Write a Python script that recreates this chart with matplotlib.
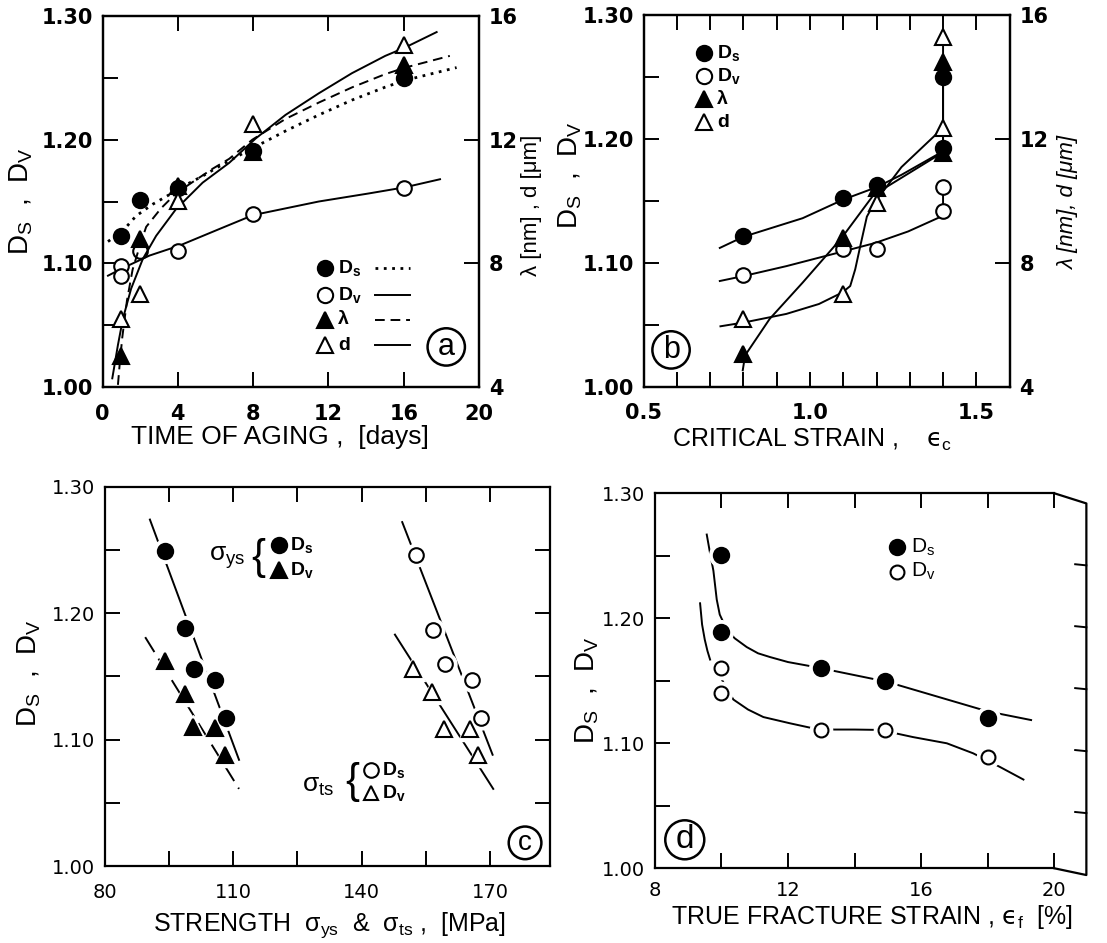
import numpy as np
import matplotlib
matplotlib.use("Agg")
import matplotlib.pyplot as plt

plt.rcParams["font.family"] = ["Liberation Sans", "DejaVu Sans"]
plt.rcParams["mathtext.fontset"] = "custom"
plt.rcParams["mathtext.rm"] = "Liberation Sans"
plt.rcParams["mathtext.it"] = "Liberation Sans:italic"
plt.rcParams["mathtext.bf"] = "Liberation Sans:bold"

# ========= (a) time of aging =========
a_days = [1, 2, 4, 8, 16]
a_Ds = [1.122, 1.151, 1.161, 1.191, 1.250]
a_Dv_days = [1, 1, 2, 4, 8, 16]
a_Dv = [1.098, 1.090, 1.110, 1.110, 1.140, 1.161]
a_lam = [5.0, 8.8, 10.5, 11.6, 14.4]      # nm
a_d = [6.2, 7.0, 10.0, 12.5, 15.05]       # um

# curves
a_Ds_cx = [0.29, 1.085, 1.79, 2.67, 3.56, 4.0, 5.32, 6.38, 7.96, 9.72, 11.49, 13.25, 15.02, 16.07, 18.81]
a_Ds_cy = [1.1176, 1.1264, 1.1384, 1.1478, 1.1556, 1.16, 1.1706, 1.18, 1.193, 1.207, 1.22, 1.232, 1.2425, 1.248, 1.2583]
a_Dv_cx = [0.29, 1.085, 2.5, 4.08, 6.2, 8.0, 11.49, 14.14, 16.07, 17.93]
a_Dv_cy = [1.09, 1.0962, 1.1063, 1.1143, 1.1277, 1.139, 1.150, 1.1565, 1.1615, 1.168]
a_lam_cx = [0.82, 0.91, 1.05, 1.3, 1.6, 2.0, 2.32, 3.11, 3.9, 4.79, 5.85, 6.73, 7.96, 9.72, 11.49, 13.25, 15.02, 16.07, 18.45]
a_lam_cy = [4.07, 4.72, 5.6, 6.8, 7.8, 8.6, 9.18, 9.78, 10.26, 10.63, 11.06, 11.38, 12.0, 12.67, 13.2, 13.69, 14.12, 14.33, 14.71]
a_d_cx = [0.52, 0.82, 1.085, 1.52, 2.14, 2.85, 3.9, 5.32, 6.73, 8.14, 9.72, 11.49, 13.25, 15.02, 16.07, 17.75]
a_d_cy = [4.28, 5.36, 6.21, 7.18, 8.14, 8.89, 9.75, 10.61, 11.25, 12.04, 12.8, 13.5, 14.15, 14.71, 14.98, 15.48]

# ========= (b) critical strain =========
b_strain = [0.8, 1.1, 1.2, 1.4, 1.4]
b_Ds = [1.122, 1.152, 1.163, 1.193, 1.250]
b_Dv = [1.090, 1.111, 1.111, 1.142, 1.161]
b_lam = [5.07, 8.8, 10.4, 11.56, 14.48]
b_d = [6.19, 6.99, 9.94, 12.36, 15.3]

b_Ds_cx = [0.729, 0.8, 0.978, 1.1, 1.2, 1.275, 1.4, 1.4]
b_Ds_cy = [1.112, 1.121, 1.136, 1.151, 1.161, 1.171, 1.19, 1.25]
b_Dv_cx = [0.729, 0.8, 0.929, 1.097, 1.196, 1.295, 1.4, 1.4]
b_Dv_cy = [1.0853, 1.0893, 1.0973, 1.109, 1.116, 1.1253, 1.138, 1.161]
b_lam_cx = [0.798, 0.805, 0.879, 0.978, 1.095, 1.191, 1.4, 1.4]
b_lam_cy = [4.53, 5.01, 6.19, 7.36, 8.8, 10.19, 11.57, 14.48]
b_d_cx = [0.731, 0.805, 0.929, 1.027, 1.097, 1.121, 1.136, 1.151, 1.171, 1.194, 1.275, 1.4, 1.4]
b_d_cy = [5.95, 6.08, 6.35, 6.67, 7.04, 7.25, 7.79, 8.53, 9.49, 9.94, 11.09, 12.36, 15.3]

# ========= (c) strength =========
c_ys_Ds_x = [94.2, 98.9, 101.0, 105.7, 108.4]
c_ys_Ds = [1.249, 1.188, 1.156, 1.147, 1.117]
c_ys_Dv_x = [94.1, 98.7, 100.7, 105.7, 108.1]
c_ys_Dv = [1.162, 1.136, 1.110, 1.109, 1.088]
c_ts_Ds_x = [152.8, 156.7, 159.5, 165.7, 168.0]
c_ts_Ds = [1.246, 1.187, 1.160, 1.147, 1.117]
c_ts_Dv_x = [152.0, 156.4, 159.3, 165.3, 167.2]
c_ts_Dv = [1.156, 1.138, 1.108, 1.108, 1.088]

c_ys_Ds_lx, c_ys_Ds_ly = [90.6, 111.4], [1.274, 1.084]
c_ys_Dv_lx, c_ys_Dv_ly = [89.5, 111.4], [1.181, 1.061]
c_ts_Ds_lx, c_ts_Ds_ly = [149.5, 170.6], [1.272, 1.088]
c_ts_Dv_lx, c_ts_Dv_ly = [147.8, 170.75], [1.183, 1.061]

# ========= (d) true fracture strain =========
d_strain = [10.0, 10.0, 13.0, 14.9, 18.0]
d_Ds = [1.251, 1.189, 1.160, 1.150, 1.120]
d_Dv = [1.160, 1.140, 1.111, 1.111, 1.089]

d_Ds_cx = [9.56, 9.66, 9.76, 9.86, 9.95, 10.16, 10.4, 10.76, 11.1, 11.46, 12.0, 12.76, 13.0, 14.96, 18.0, 19.3]
d_Ds_cy = [1.267, 1.252, 1.238, 1.215, 1.203, 1.191, 1.184, 1.177, 1.172, 1.169, 1.165, 1.1613, 1.160, 1.1493, 1.1255, 1.1186]
d_Dv_c1x = [9.36, 9.42, 9.5, 9.58, 9.66]
d_Dv_c1y = [1.212, 1.195, 1.183, 1.174, 1.167]
d_Dv_c2x = [10.01, 10.36, 10.8, 11.26, 12.06, 12.75, 13.0, 14.0, 14.76, 15.75, 16.77, 17.56, 18.37, 19.07]
d_Dv_c2y = [1.151, 1.135, 1.127, 1.121, 1.116, 1.112, 1.111, 1.111, 1.1107, 1.105, 1.10, 1.092, 1.081, 1.071]

# ========= 画图 =========
W, H = 1107, 943
fig = plt.figure(figsize=(W / 100, H / 100), dpi=100)


def add_ax(l, r, t, b):
    return fig.add_axes([l / W, 1 - b / H, (r - l) / W, (b - t) / H])


def style(ax, size, weight="normal", pad=6):
    ax.tick_params(which="both", direction="in", length=11, width=1.4,
                   labelsize=size, pad=pad)
    for s in ax.spines.values():
        s.set_linewidth(1.6)
    for lbl in ax.get_xticklabels() + ax.get_yticklabels():
        lbl.set_fontweight(weight)
        lbl.set_fontfamily("DejaVu Sans")


def pts(ax, x, y, marker, filled, ms=11, halo=False, **kw):
    if halo:
        ax.plot(x, y, ls="none", marker=marker, ms=ms + 6, mfc="white",
                mec="white", zorder=3, **kw)
    ax.plot(x, y, ls="none", marker=marker, ms=ms,
            mfc="black" if filled else "white", mec="black", mew=1.5,
            zorder=4, **kw)


def circled(ax, x, y, s, size=22):
    ax.text(x, y, s, transform=ax.transAxes, ha="center", va="center",
            fontsize=size, zorder=6,
            bbox=dict(boxstyle="circle,pad=0.12", fc="white", ec="black", lw=1.8))


DL = "D$_\\mathregular{S}$  ,  D$_\\mathregular{V}$"
ys_fmt = lambda v: f"{v:.2f}"
lw = 1.4

# ---------- (a) ----------
ax = add_ax(102.5, 479, 16, 387)
ax.set_xlim(0, 20)
ax.set_ylim(1.0, 1.3)
ax.set_xticks([0, 4, 8, 12, 16, 20])
ax.set_yticks([1.0, 1.1, 1.2, 1.3])
ax.set_yticklabels([ys_fmt(v) for v in [1.0, 1.1, 1.2, 1.3]])
ax.set_yticks([1.05, 1.15, 1.25], minor=True)
ax.tick_params(top=True)
style(ax, 15, "bold", pad=7)
ax.tick_params(axis="x", pad=12)
ax.plot(a_Ds_cx, a_Ds_cy, color="k", lw=2, ls=(0, (1, 2)))
ax.plot(a_Dv_cx, a_Dv_cy, color="k", lw=lw)
pts(ax, a_days, a_Ds, "o", True)
pts(ax, a_Dv_days, a_Dv, "o", False, ms=10.5)
ax2 = ax.twinx()
ax2.set_ylim(4, 16)
ax2.set_yticks([4, 8, 12, 16])
style(ax2, 15, "bold", pad=7)
ax2.plot(a_lam_cx, a_lam_cy, color="k", lw=lw, ls=(0, (5, 3)))
ax2.plot(a_d_cx, a_d_cy, color="k", lw=lw)
pts(ax2, a_days, a_lam, "^", True)
pts(ax2, a_days, a_d, "^", False)
ax.text(-0.215, 0.5, DL, transform=ax.transAxes, rotation=90,
        ha="center", va="center", fontsize=20)
ax.text(1.14, 0.49, "λ [nm] , d [μm]", transform=ax.transAxes, rotation=90,
        ha="center", va="center", fontsize=16)
ax.text(0.47, -0.135, "TIME OF AGING ,  [days]", transform=ax.transAxes,
        ha="center", va="center", fontsize=19)
# legend
leg_a = [("o", True, "D$_\\mathbf{s}$", (0, (1, 2)), 2),
         ("o", False, "D$_\\mathbf{v}$", "-", lw),
         ("^", True, "λ", (0, (5, 3)), lw),
         ("^", False, "d", "-", lw)]
for (mk, fl, lab, ls, lww), yy in zip(leg_a, [0.321, 0.248, 0.181, 0.113]):
    pts(ax, [0.592], [yy], mk, fl, transform=ax.transAxes, clip_on=False)
    ax.text(0.625, yy, lab, transform=ax.transAxes, ha="left", va="center",
            fontsize=14, fontweight="bold")
    ax.plot([0.725, 0.818], [yy, yy], transform=ax.transAxes, color="k",
            lw=lww, ls=ls)
circled(ax, 0.913, 0.108, "a")

# ---------- (b) ----------
ax = add_ax(643.6, 1009.6, 15, 386.7)
ax.set_xlim(0.5, 1.6)
ax.set_ylim(1.0, 1.3)
ax.set_xticks([0.5, 1.0, 1.5])
ax.set_xticklabels(["0.5", "1.0", "1.5"])
ax.set_xticks([0.6, 0.7, 0.8, 0.9, 1.1, 1.2, 1.3, 1.4], minor=True)
ax.set_yticks([1.0, 1.1, 1.2, 1.3])
ax.set_yticklabels([ys_fmt(v) for v in [1.0, 1.1, 1.2, 1.3]])
ax.set_yticks([1.05, 1.15, 1.25], minor=True)
ax.tick_params(top=True, which="both")
style(ax, 15, "bold", pad=7)
ax.tick_params(axis="x", pad=12)
ax.plot(b_Ds_cx, b_Ds_cy, color="k", lw=lw)
ax.plot(b_Dv_cx, b_Dv_cy, color="k", lw=lw)
pts(ax, b_strain, b_Ds, "o", True)
pts(ax, b_strain, b_Dv, "o", False, ms=10.5)
ax2 = ax.twinx()
ax2.set_ylim(4, 16)
ax2.set_yticks([4, 8, 12, 16])
style(ax2, 15, "bold", pad=7)
ax2.plot(b_lam_cx, b_lam_cy, color="k", lw=lw)
ax2.plot(b_d_cx, b_d_cy, color="k", lw=lw)
pts(ax2, b_strain, b_lam, "^", True)
pts(ax2, b_strain, b_d, "^", False)
ax.text(-0.2, 0.57, DL, transform=ax.transAxes, rotation=90,
        ha="center", va="center", fontsize=20)
ax.text(1.16, 0.494, "λ [nm], d [μm]", transform=ax.transAxes, rotation=90,
        ha="center", va="center", fontsize=16, style="italic")
ax.text(0.46, -0.143, "CRITICAL STRAIN ,    $\\mathrm{ϵ}_\\mathregular{c}$",
        transform=ax.transAxes, ha="center", va="center", fontsize=18,
        math_fontfamily="dejavusans")
leg_b = [("o", True, "D$_\\mathbf{s}$"), ("o", False, "D$_\\mathbf{v}$"),
         ("^", True, "λ"), ("^", False, "d")]
for (mk, fl, lab), yy in zip(leg_b, [0.898, 0.836, 0.774, 0.712]):
    pts(ax, [0.164], [yy], mk, fl, transform=ax.transAxes, clip_on=False)
    ax.text(0.2, yy, lab, transform=ax.transAxes, ha="left", va="center",
            fontsize=14, fontweight="bold")
circled(ax, 0.075, 0.099, "b")

# ---------- (c) ----------
ax = add_ax(104.5, 550, 486.7, 866)
ax.set_xlim(80, 184)
ax.set_ylim(1.0, 1.3)
ax.set_xticks([80, 110, 140, 170])
ax.set_xticks([95, 125, 155], minor=True)
ax.set_yticks([1.0, 1.1, 1.2, 1.3])
ax.set_yticklabels([ys_fmt(v) for v in [1.0, 1.1, 1.2, 1.3]])
ax.set_yticks([1.05, 1.15, 1.25], minor=True)
ax.tick_params(top=True, right=True, which="both")
style(ax, 14, pad=7)
ax.tick_params(axis="x", pad=12)
ax.plot(c_ys_Ds_lx, c_ys_Ds_ly, color="k", lw=lw)
ax.plot(c_ys_Dv_lx, c_ys_Dv_ly, color="k", lw=lw, ls=(0, (9, 4)))
ax.plot(c_ts_Ds_lx, c_ts_Ds_ly, color="k", lw=lw)
ax.plot(c_ts_Dv_lx, c_ts_Dv_ly, color="k", lw=lw)
pts(ax, c_ys_Ds_x, c_ys_Ds, "o", True, halo=True)
pts(ax, c_ys_Dv_x, c_ys_Dv, "^", True, halo=True)
pts(ax, c_ts_Ds_x, c_ts_Ds, "o", False, ms=10.5, halo=True)
pts(ax, c_ts_Dv_x, c_ts_Dv, "^", False, halo=True)
ax.text(-0.17, 0.509, DL, transform=ax.transAxes, rotation=90,
        ha="center", va="center", fontsize=20)
ax.text(0.504, -0.156,
        "STRENGTH  σ$_\\mathregular{ys}$  &  σ$_\\mathregular{ts}$ ,  [MPa]",
        transform=ax.transAxes, ha="center", va="center", fontsize=18)
# legend groups
ax.text(0.275, 0.812, "σ$_\\mathregular{ys}$", transform=ax.transAxes,
        ha="center", va="center", fontsize=19)
ax.text(0.345, 0.813, "{", transform=ax.transAxes, ha="center", va="center",
        fontsize=30, fontweight="light")
for (mk, lab), yy in zip([("o", "D$_\\mathregular{s}$"), ("^", "D$_\\mathregular{v}$")],
                         [0.846, 0.781]):
    pts(ax, [0.391], [yy], mk, True, transform=ax.transAxes, clip_on=False)
    ax.text(0.417, yy, lab, transform=ax.transAxes, ha="left", va="center",
            fontsize=14, fontweight="bold")
ax.text(0.48, 0.212, "σ$_\\mathregular{ts}$", transform=ax.transAxes,
        ha="center", va="center", fontsize=19)
ax.text(0.556, 0.222, "{", transform=ax.transAxes, ha="center", va="center",
        fontsize=30, fontweight="light")
for (mk, lab), yy in zip([("o", "D$_\\mathregular{s}$"), ("^", "D$_\\mathregular{v}$")],
                         [0.253, 0.192]):
    pts(ax, [0.598], [yy], mk, False, ms=10.5, transform=ax.transAxes, clip_on=False)
    ax.text(0.624, yy, lab, transform=ax.transAxes, ha="left", va="center",
            fontsize=14, fontweight="bold")
circled(ax, 0.944, 0.061, "c", size=20)

# ---------- (d) ----------
ax = add_ax(654.8, 1054.4, 493.3, 868.3)
ax.set_xlim(8, 20)
ax.set_ylim(1.0, 1.3)
ax.set_xticks([8, 12, 16, 20])
ax.set_xticks([10, 14, 18], minor=True)
ax.set_yticks([1.0, 1.1, 1.2, 1.3])
ax.set_yticklabels([ys_fmt(v) for v in [1.0, 1.1, 1.2, 1.3]])
ax.set_yticks([1.05, 1.15, 1.25], minor=True)
ax.tick_params(top=True, which="both")
style(ax, 14, pad=7)
ax.tick_params(axis="x", pad=9)
ax.spines["right"].set_visible(False)
# folded right edge of the original print
ax.plot([1, 1.08, 1.08, 1], [1, 0.973, -0.018, 0], transform=ax.transAxes,
        color="k", lw=1.6, clip_on=False)
for v in [1.05, 1.10, 1.15, 1.20, 1.25]:
    yf = 0.973 - (1.30 - v) / 0.3 * 0.991
    ax.plot([1.052, 1.08], [yf + 0.003, yf], transform=ax.transAxes,
            color="k", lw=1.4, clip_on=False)
ax.plot(d_Ds_cx, d_Ds_cy, color="k", lw=lw)
ax.plot(d_Dv_c1x, d_Dv_c1y, color="k", lw=lw)
ax.plot(d_Dv_c2x, d_Dv_c2y, color="k", lw=lw)
pts(ax, d_strain, d_Ds, "o", True, halo=True)
pts(ax, d_strain, d_Dv, "o", False, ms=10, halo=True)
ax.text(-0.17, 0.475, DL, transform=ax.transAxes, rotation=90,
        ha="center", va="center", fontsize=20)
ax.text(0.544, -0.13, "TRUE FRACTURE STRAIN , $\\mathrm{ϵ}_\\mathregular{f}$  [%]",
        transform=ax.transAxes, ha="center", va="center", fontsize=18,
        math_fontfamily="dejavusans")
for (fl, lab), yy in zip([(True, "D$_\\mathregular{s}$"), (False, "D$_\\mathregular{v}$")],
                         [0.856, 0.791]):
    pts(ax, [0.605], [yy], "o", fl, ms=11 if fl else 10,
        transform=ax.transAxes, clip_on=False)
    ax.text(0.64, yy, lab, transform=ax.transAxes, ha="left", va="center",
            fontsize=15)
circled(ax, 0.075, 0.076, "d", size=24)

fig.savefig("out.png", dpi=100)
print("完成")
